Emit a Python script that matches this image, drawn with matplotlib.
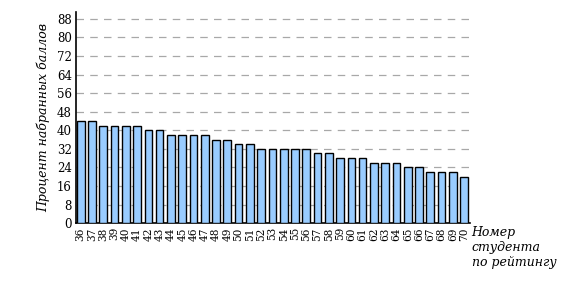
import matplotlib
matplotlib.use("Agg")
import matplotlib.pyplot as plt
import numpy as np

# student rank numbers and percent of scored points
students = list(range(36, 71))
scores = [44, 44, 42, 42, 42, 42, 40, 40, 38, 38, 38, 38, 36, 36, 34, 34,
          32, 32, 32, 32, 32, 30, 30, 28, 28, 28, 26, 26, 26, 24, 24,
          22, 22, 22, 20]
y_ticks = list(range(0, 89, 8))

plt.rcParams['font.family'] = ['DejaVu Serif']

fig = plt.figure(figsize=(5.8, 3.06), dpi=100)
ax = fig.add_axes([0.131, 0.271, 0.679, 0.69])

x = np.arange(len(students))
ax.bar(x, scores, width=0.68, color='#99ccff', edgecolor='black',
       linewidth=1.0, zorder=3)

ax.set_xlim(-0.42, len(students) - 0.5)
ax.set_ylim(0, 91)
ax.set_yticks(y_ticks)
ax.set_yticklabels([str(v) for v in y_ticks], fontsize=8.5)
ax.set_xticks(x)
ax.set_xticklabels([str(s) for s in students], rotation=90, fontsize=7.6)
ax.tick_params(length=0, pad=3)

for v in y_ticks[1:]:
    ax.axhline(v, color='#a8a8a8', linestyle=(0, (6, 5)), linewidth=0.9, zorder=1)

for side in ('top', 'right'):
    ax.spines[side].set_visible(False)
ax.spines['left'].set_linewidth(1.2)
ax.spines['bottom'].set_linewidth(1.2)

ax.set_ylabel('Процент набранных баллов', fontsize=9, style='italic', labelpad=5)
fig.text(0.813, 0.262, 'Номер\nстудента\nпо рейтингу', fontsize=9,
         style='italic', ha='left', va='top', linespacing=1.2)

fig.savefig('out.png', dpi=100, facecolor='white')
